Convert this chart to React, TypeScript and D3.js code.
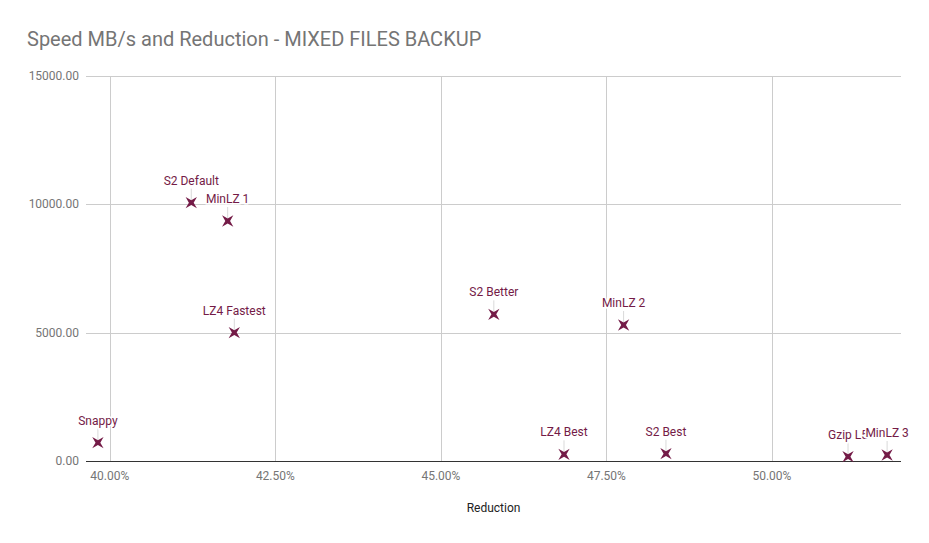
import * as d3 from 'd3';
import React, { useEffect, useRef } from 'react';

const names = ['Snappy', 'S2 Default', 'MinLZ 1', 'LZ4 Fastest', 'S2 Better', 'MinLZ 2', 'LZ4 Best', 'S2 Best', 'Gzip L5', 'MinLZ 3'];
const reduction = [39.82, 41.23, 41.78, 41.88, 45.8, 47.76, 46.86, 48.4, 51.15, 51.74];
const speed = [724, 10068, 9355, 5012, 5722, 5306, 272, 296, 179, 245];
const xTicks = [40, 42.5, 45, 47.5, 50];
const yTicks = [0, 5000, 10000, 15000];

export default () => {
    const ref = useRef<any>();

    useEffect(() => {
        document.body.style.margin = '0';
        const width = 929;
        const height = 543;
        const margin = { top: 76, right: 28, bottom: 82, left: 86 };

        const svg = d3.select<any, any>(ref.current)
            .attr('width', width)
            .attr('height', height)
            .style('font-family', 'Roboto, sans-serif')
            .style('display', 'block');
        svg.selectAll('*').remove();

        svg.append('rect').attr('width', width).attr('height', height).attr('fill', '#fff');

        svg.append('text')
            .attr('x', 27)
            .attr('y', 46)
            .attr('font-size', 20)
            .attr('fill', '#757575')
            .text('Speed MB/s and Reduction - MIXED FILES BACKUP');

        const x = d3.scaleLinear().domain([39.64, 51.95]).range([margin.left, width - margin.right]);
        const y = d3.scaleLinear().domain([0, 15000]).range([height - margin.bottom + 0.3, margin.top]);

        const grid = svg.append('g').attr('class', 'grid');
        grid.selectAll('.hg').data(yTicks.filter((d) => d > 0)).join('line')
            .attr('x1', margin.left).attr('x2', width - margin.right)
            .attr('y1', (d) => Math.round(y(d)) + 0.5).attr('y2', (d) => Math.round(y(d)) + 0.5)
            .attr('stroke', '#cccccc');
        grid.selectAll('.vg').data(xTicks).join('line')
            .attr('x1', (d) => Math.round(x(d)) + 0.5).attr('x2', (d) => Math.round(x(d)) + 0.5)
            .attr('y1', y(15000)).attr('y2', y(0))
            .attr('stroke', '#cccccc');

        svg.append('line')
            .attr('x1', margin.left).attr('x2', width - margin.right)
            .attr('y1', Math.round(y(0)) + 0.5).attr('y2', Math.round(y(0)) + 0.5)
            .attr('stroke', '#333333');

        svg.append('g').selectAll('text').data(yTicks).join('text')
            .attr('x', 79)
            .attr('y', (d) => y(d) + 4)
            .attr('text-anchor', 'end')
            .attr('font-size', 12)
            .attr('fill', '#757575')
            .text((d) => d3.format('.2f')(d));

        svg.append('g').selectAll('text').data(xTicks).join('text')
            .attr('x', (d) => x(d))
            .attr('y', y(0) + 19)
            .attr('text-anchor', 'middle')
            .attr('font-size', 12)
            .attr('fill', '#757575')
            .text((d) => d3.format('.2f')(d) + '%');

        svg.append('text')
            .attr('x', (x.range()[0] + x.range()[1]) / 2)
            .attr('y', 512)
            .attr('text-anchor', 'middle')
            .attr('font-size', 12)
            .attr('fill', '#222222')
            .text('Reduction');

        // four-pointed star, rotated to look like an X
        const star = () => {
            const pts: string[] = [];
            for (let i = 0; i < 8; i++) {
                const a = Math.PI / 4 + (i * Math.PI) / 4;
                const r = i % 2 === 0 ? 8 : 2.4;
                pts.push(`${r * Math.cos(a)},${r * Math.sin(a)}`);
            }
            return 'M' + pts.join('L') + 'Z';
        };

        const data = names.map((n, i) => ({ name: n, rx: reduction[i], sp: speed[i] }));

        const pts = svg.append('g').attr('class', 'points');
        pts.selectAll('line').data(data).join('line')
            .attr('x1', (d) => x(d.rx)).attr('x2', (d) => x(d.rx))
            .attr('y1', (d) => y(d.sp)).attr('y2', (d) => y(d.sp) - 14)
            .attr('stroke', '#d9d9d9');

        pts.selectAll('path').data(data).join('path')
            .attr('d', star())
            .attr('transform', (d) => `translate(${x(d.rx)},${y(d.sp)})`)
            .attr('fill', '#741b47');

        pts.selectAll('text').data(data).join('text')
            .attr('x', (d) => x(d.rx))
            .attr('y', (d) => y(d.sp) - 18)
            .attr('text-anchor', 'middle')
            .attr('font-size', 12)
            .attr('fill', '#741b47')
            .attr('stroke', '#ffffff')
            .attr('stroke-width', 3)
            .attr('paint-order', 'stroke')
            .text((d) => d.name);
    });

    return (
        <React.Fragment>
            <svg ref={ref}></svg>
        </React.Fragment>
    );
};
